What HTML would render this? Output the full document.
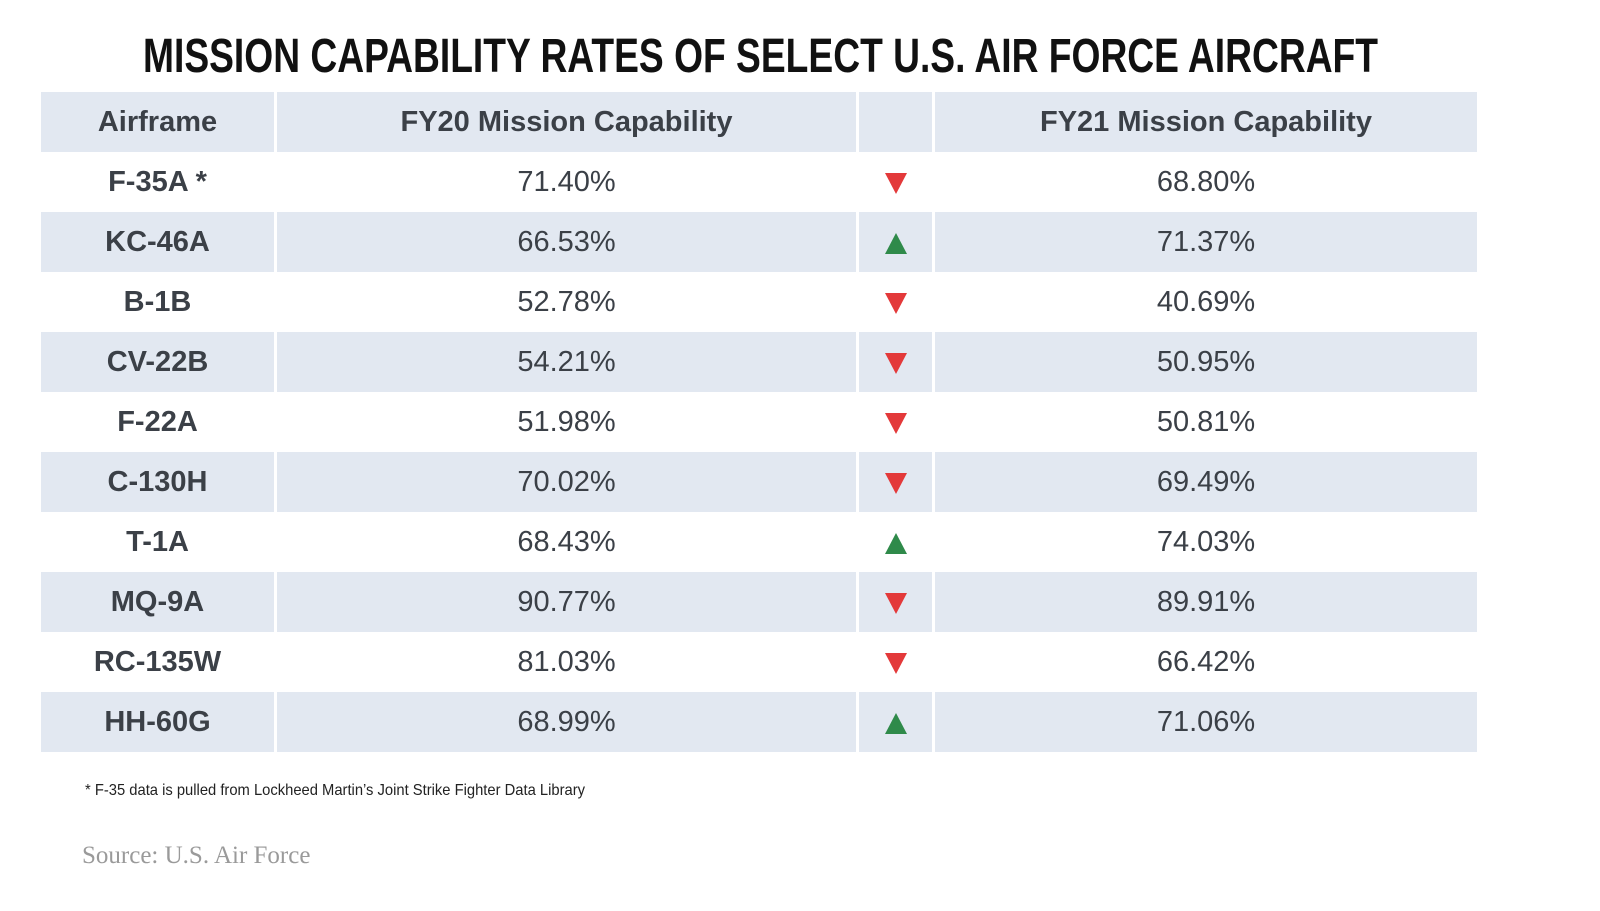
<!DOCTYPE html>
<html><head><style>
body{margin:0;background:#fff;width:1600px;height:911px;position:relative;overflow:hidden;font-family:"Liberation Sans",sans-serif;color:#3b4047}
.r{position:absolute;left:41px;width:1436px;height:60px}
.c{position:absolute;top:0;height:60px;line-height:60px;text-align:center;font-size:29px}
.b .c{background:#e2e8f1}
.c1{left:0;width:233px;font-weight:bold}
.c2{left:236px;width:579px}
.c3{left:818px;width:73px}
.c4{left:894px;width:542px}
.dn{display:inline-block;width:0;height:0;border-left:11px solid transparent;border-right:11px solid transparent;border-top:21px solid #e3393a;vertical-align:middle}
.up{display:inline-block;width:0;height:0;border-left:11px solid transparent;border-right:11px solid transparent;border-bottom:21px solid #2f8a4a;vertical-align:middle}
</style></head><body>
<svg style="position:absolute;left:0;top:0" width="1600" height="90"><text x="143" y="72" textLength="1235" lengthAdjust="spacingAndGlyphs" font-family="Liberation Sans, sans-serif" font-weight="bold" font-size="48" fill="#111">MISSION CAPABILITY RATES OF SELECT U.S. AIR FORCE AIRCRAFT</text></svg>
<div class="r b" style="top:92px"><div class="c c1" style="font-weight:bold">Airframe</div><div class="c c2" style="font-weight:bold">FY20 Mission Capability</div><div class="c c3"></div><div class="c c4" style="font-weight:bold">FY21 Mission Capability</div></div>
<div class="r" style="top:152px"><div class="c c1">F-35A *</div><div class="c c2">71.40%</div><div class="c c3"><span class="dn"></span></div><div class="c c4">68.80%</div></div>
<div class="r b" style="top:212px"><div class="c c1">KC-46A</div><div class="c c2">66.53%</div><div class="c c3"><span class="up"></span></div><div class="c c4">71.37%</div></div>
<div class="r" style="top:272px"><div class="c c1">B-1B</div><div class="c c2">52.78%</div><div class="c c3"><span class="dn"></span></div><div class="c c4">40.69%</div></div>
<div class="r b" style="top:332px"><div class="c c1">CV-22B</div><div class="c c2">54.21%</div><div class="c c3"><span class="dn"></span></div><div class="c c4">50.95%</div></div>
<div class="r" style="top:392px"><div class="c c1">F-22A</div><div class="c c2">51.98%</div><div class="c c3"><span class="dn"></span></div><div class="c c4">50.81%</div></div>
<div class="r b" style="top:452px"><div class="c c1">C-130H</div><div class="c c2">70.02%</div><div class="c c3"><span class="dn"></span></div><div class="c c4">69.49%</div></div>
<div class="r" style="top:512px"><div class="c c1">T-1A</div><div class="c c2">68.43%</div><div class="c c3"><span class="up"></span></div><div class="c c4">74.03%</div></div>
<div class="r b" style="top:572px"><div class="c c1">MQ-9A</div><div class="c c2">90.77%</div><div class="c c3"><span class="dn"></span></div><div class="c c4">89.91%</div></div>
<div class="r" style="top:632px"><div class="c c1">RC-135W</div><div class="c c2">81.03%</div><div class="c c3"><span class="dn"></span></div><div class="c c4">66.42%</div></div>
<div class="r b" style="top:692px"><div class="c c1">HH-60G</div><div class="c c2">68.99%</div><div class="c c3"><span class="up"></span></div><div class="c c4">71.06%</div></div>
<svg style="position:absolute;left:0;top:770px" width="700" height="30"><text x="85" y="25" textLength="500" lengthAdjust="spacingAndGlyphs" font-family="Liberation Sans, sans-serif" font-size="16" fill="#222">* F-35 data is pulled from Lockheed Martin’s Joint Strike Fighter Data Library</text></svg>
<div style="position:absolute;left:82px;top:842px;font-family:'Liberation Serif',serif;font-size:25px;color:#9a9a9a">Source: U.S. Air Force</div>
</body></html>
